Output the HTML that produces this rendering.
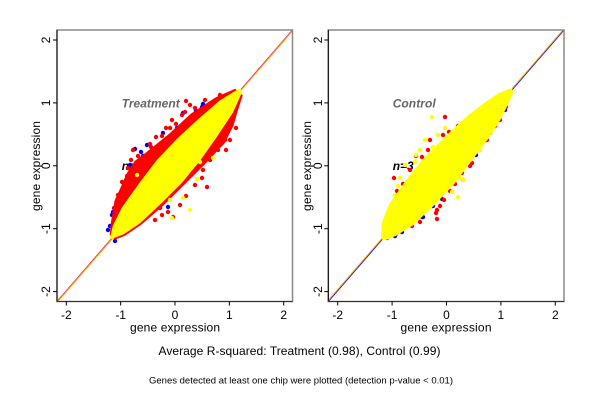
<!DOCTYPE html>
<html><head><meta charset="utf-8"><style>
html,body{margin:0;padding:0;background:#fff;}
svg{display:block;}
text{font-family:"Liberation Sans",Arial,sans-serif;}
</style></head><body>
<svg width="600" height="400" viewBox="0 0 600 400" xmlns="http://www.w3.org/2000/svg">
<defs>
<clipPath id="cl"><rect x="57" y="30" width="235.5" height="271.5"/></clipPath>
<clipPath id="cr"><rect x="328.3" y="30" width="235.7" height="271.5"/></clipPath>
</defs>
<rect width="600" height="400" fill="#fff"/>

<!-- LEFT PANEL -->
<g clip-path="url(#cl)">
<line x1="57" y1="301.5" x2="292.5" y2="30" stroke="#e8106a" stroke-width="1"/>
<line x1="57.8" y1="301.5" x2="293.3" y2="30" stroke="#ffa500" stroke-width="1"/>
<text x="121.7" y="170" font-size="12" font-weight="bold" font-style="italic" fill="#000">n=3</text>
<g fill="#0000ff">
<circle cx="163" cy="133" r="2.2"/><circle cx="177" cy="128" r="2.2"/><circle cx="202" cy="107" r="2.2"/><circle cx="183" cy="113" r="2.2"/><circle cx="124" cy="197" r="2.2"/><circle cx="113" cy="212" r="2.2"/><circle cx="168" cy="207" r="2.2"/><circle cx="126" cy="202" r="2.2"/><circle cx="141" cy="152" r="2.2"/><circle cx="143" cy="156" r="2.2"/><circle cx="135" cy="149" r="2.2"/><circle cx="112" cy="215" r="2.2"/><circle cx="108" cy="230" r="2.2"/><circle cx="203" cy="104" r="2.2"/><circle cx="147" cy="145" r="2.2"/><circle cx="196" cy="111" r="2.2"/><circle cx="130" cy="165" r="2.2"/><circle cx="118" cy="205" r="2.2"/><circle cx="115" cy="241" r="2.2"/><circle cx="210" cy="150" r="2.2"/><circle cx="110" cy="226" r="2.2"/>
</g>
<polygon fill="#ff0000" points="109.7,235 110.8,223.2 114.5,200.8 120.3,188 126.8,173.1 134.8,160.9 146.6,152 169.4,133.5 190.7,113.8 215.8,97.3 235.2,88.7 242.8,95.3 238,110 233.5,125.6 224.5,143.4 204.7,164.5 184.2,184.9 163.6,205.4 141.6,224.5 125.1,235.7 115,239.6"/>
<g fill="#ff0000">
<circle cx="185" cy="112" r="2.2"/><circle cx="172" cy="120" r="2.2"/><circle cx="182" cy="115" r="2.2"/><circle cx="211" cy="108" r="2.2"/><circle cx="213" cy="105" r="2.2"/><circle cx="156" cy="137" r="2.2"/><circle cx="162" cy="136" r="2.2"/><circle cx="143" cy="157" r="2.2"/><circle cx="133" cy="150" r="2.2"/><circle cx="127" cy="176" r="2.2"/><circle cx="207" cy="187" r="2.2"/><circle cx="202" cy="178" r="2.2"/><circle cx="138" cy="188" r="2.2"/><circle cx="148" cy="215" r="2.2"/><circle cx="155" cy="220" r="2.2"/><circle cx="162" cy="215" r="2.2"/><circle cx="173" cy="217" r="2.2"/><circle cx="197" cy="157" r="2.2"/><circle cx="200" cy="137" r="2.2"/><circle cx="190" cy="105" r="2.2"/><circle cx="205" cy="100" r="2.2"/><circle cx="220" cy="95" r="2.2"/><circle cx="225" cy="98" r="2.2"/><circle cx="166" cy="128" r="2.2"/><circle cx="176" cy="124" r="2.2"/><circle cx="150" cy="144" r="2.2"/><circle cx="145" cy="162" r="2.2"/><circle cx="136" cy="170" r="2.2"/><circle cx="140" cy="180" r="2.2"/><circle cx="132" cy="192" r="2.2"/><circle cx="125" cy="200" r="2.2"/><circle cx="121" cy="210" r="2.2"/><circle cx="160" cy="208" r="2.2"/><circle cx="168" cy="212" r="2.2"/><circle cx="180" cy="205" r="2.2"/><circle cx="186" cy="196" r="2.2"/><circle cx="195" cy="185" r="2.2"/><circle cx="203" cy="170" r="2.2"/><circle cx="210" cy="160" r="2.2"/><circle cx="218" cy="150" r="2.2"/><circle cx="225" cy="140" r="2.2"/><circle cx="228" cy="128" r="2.2"/><circle cx="233" cy="118" r="2.2"/><circle cx="215" cy="125" r="2.2"/><circle cx="158" cy="152" r="2.2"/><circle cx="165" cy="145" r="2.2"/><circle cx="142" cy="200" r="2.2"/><circle cx="152" cy="205" r="2.2"/><circle cx="132" cy="222" r="2.2"/><circle cx="125" cy="230" r="2.2"/>
<circle cx="118" cy="195" r="2.2"/><circle cx="122" cy="182" r="2.2"/><circle cx="128" cy="168" r="2.2"/><circle cx="138" cy="156" r="2.2"/><circle cx="151" cy="147" r="2.2"/><circle cx="170" cy="128" r="2.2"/><circle cx="195" cy="108" r="2.2"/><circle cx="200" cy="112" r="2.2"/><circle cx="230" cy="140" r="2.2"/><circle cx="226" cy="150" r="2.2"/><circle cx="236" cy="128" r="2.2"/><circle cx="114" cy="208" r="2.2"/><circle cx="131" cy="160" r="2.2"/><circle cx="186" cy="101" r="2.2"/>
</g>
<polygon fill="#ffff00" points="110.5,235.7 113.1,225.1 122,207.3 138.8,183.6 156.4,160.5 176.2,139.5 197.5,119.7 219.5,100.6 236.7,90 241,89 241.3,94 233.1,112.4 217,136.8 200.2,160.5 181.9,182.9 161.4,203.4 140.1,223.2 123.6,234.4 113.5,238.3 110,239"/>
<g fill="#ffff00">
<circle cx="190" cy="210" r="2.2"/><circle cx="213" cy="158" r="2.2"/><circle cx="172" cy="218" r="2.2"/><circle cx="183" cy="198" r="2.2"/><circle cx="197" cy="179" r="2.2"/><circle cx="137" cy="175" r="2.2"/><circle cx="173" cy="155" r="2.2"/><circle cx="182" cy="137" r="2.2"/><circle cx="170" cy="200" r="2.2"/><circle cx="200" cy="162" r="2.2"/><circle cx="148" cy="208" r="2.2"/>
</g>
</g>
<text x="121.7" y="107.5" font-size="12" font-weight="bold" font-style="italic" fill="#666" textLength="58">Treatment</text>
<!-- box & axes left -->
<rect x="57" y="30" width="235.5" height="271.5" fill="none" stroke="#888" stroke-width="1.5"/>
<line x1="57" y1="30" x2="57" y2="301.5" stroke="#000" stroke-width="1"/>
<line x1="57" y1="301.5" x2="292.5" y2="301.5" stroke="#333" stroke-width="1"/>
<g stroke="#000" stroke-width="1">
<line x1="53" y1="40" x2="57" y2="40"/><line x1="53" y1="102.9" x2="57" y2="102.9"/><line x1="53" y1="165.8" x2="57" y2="165.8"/><line x1="53" y1="228.7" x2="57" y2="228.7"/><line x1="53" y1="291.6" x2="57" y2="291.6"/>
<line x1="66.3" y1="301.5" x2="66.3" y2="305.5"/><line x1="120.65" y1="301.5" x2="120.65" y2="305.5"/><line x1="175" y1="301.5" x2="175" y2="305.5"/><line x1="229.35" y1="301.5" x2="229.35" y2="305.5"/><line x1="283.7" y1="301.5" x2="283.7" y2="305.5"/>
</g>
<g font-size="12" fill="#000" text-anchor="middle">
<text x="66.3" y="319">-2</text><text x="120.65" y="319">-1</text><text x="175" y="319">0</text><text x="229.35" y="319">1</text><text x="283.7" y="319">2</text>
<text transform="translate(46,40) rotate(-90)" dominant-baseline="central">2</text>
<text transform="translate(46,102.9) rotate(-90)" dominant-baseline="central">1</text>
<text transform="translate(46,165.8) rotate(-90)" dominant-baseline="central">0</text>
<text transform="translate(46,228.7) rotate(-90)" dominant-baseline="central">-1</text>
<text transform="translate(46,291.6) rotate(-90)" dominant-baseline="central">-2</text>
<text x="175" y="331.5" textLength="90">gene expression</text>
<text transform="translate(36,166) rotate(-90)" dominant-baseline="central" textLength="90">gene expression</text>
</g>

<!-- RIGHT PANEL -->
<g clip-path="url(#cr)">
<line x1="328.3" y1="301.5" x2="564" y2="30" stroke="#0000ff" stroke-width="1"/>
<line x1="327.3" y1="301.5" x2="563" y2="30" stroke="#ffa500" stroke-width="1"/>
<text x="392.7" y="170" font-size="12" font-weight="bold" font-style="italic" fill="#000">n=3</text>
<g fill="#0000ff">
<circle cx="423" cy="217" r="2.2"/><circle cx="463" cy="167" r="2.2"/><circle cx="442" cy="199" r="2.2"/><circle cx="422" cy="217" r="2.2"/><circle cx="402" cy="232" r="2.2"/><circle cx="476" cy="155" r="2.2"/><circle cx="486" cy="140" r="2.2"/><circle cx="505" cy="110" r="2.2"/><circle cx="395" cy="236" r="2.2"/><circle cx="433" cy="206" r="2.2"/>
</g>
<g fill="#ff0000">
<circle cx="445" cy="117" r="2.2"/><circle cx="465" cy="122" r="2.2"/><circle cx="443" cy="135" r="2.2"/><circle cx="449" cy="132" r="2.2"/><circle cx="428" cy="150" r="2.2"/><circle cx="416" cy="156" r="2.2"/><circle cx="422" cy="157" r="2.2"/><circle cx="403" cy="184" r="2.2"/><circle cx="397" cy="191" r="2.2"/><circle cx="408" cy="182" r="2.2"/><circle cx="437" cy="210" r="2.2"/><circle cx="429" cy="206" r="2.2"/><circle cx="436" cy="213" r="2.2"/><circle cx="463" cy="180" r="2.2"/><circle cx="490" cy="133" r="2.2"/><circle cx="487" cy="140" r="2.2"/><circle cx="472" cy="163" r="2.2"/><circle cx="462" cy="173" r="2.2"/><circle cx="455" cy="184" r="2.2"/><circle cx="495" cy="126" r="2.2"/><circle cx="500" cy="120" r="2.2"/><circle cx="506" cy="107" r="2.2"/><circle cx="410" cy="170" r="2.2"/><circle cx="394" cy="178" r="2.2"/><circle cx="399" cy="210" r="2.2"/><circle cx="412" cy="226" r="2.2"/><circle cx="387" cy="238" r="2.2"/><circle cx="470" cy="166" r="2.2"/><circle cx="480" cy="150" r="2.2"/><circle cx="444" cy="200" r="2.2"/><circle cx="430" cy="140" r="2.2"/><circle cx="458" cy="126" r="2.2"/><circle cx="440" cy="206" r="2.2"/><circle cx="450" cy="191" r="2.2"/><circle cx="478" cy="114" r="2.2"/><circle cx="474" cy="118" r="2.2"/><circle cx="420" cy="222" r="2.2"/><circle cx="396" cy="234" r="2.2"/><circle cx="402" cy="191" r="2.2"/><circle cx="402" cy="198" r="2.2"/><circle cx="437" cy="219" r="2.2"/>
</g>
<polygon fill="#ffff00" points="381.2,236 381.6,223.4 389,204.2 405.9,180.1 424.3,157.4 444.9,136.7 466.3,116.6 482.1,104.5 498.6,93.1 508.7,89 512,88.5 513.3,93 509.1,102.3 500.2,120.3 489.7,136.9 472.1,160.3 454.5,183.6 434.6,205 413.2,225.1 395.9,235.9 385.8,240 382,239.5"/>
<g fill="#ffff00">
<circle cx="432" cy="117" r="2.2"/><circle cx="415" cy="162" r="2.2"/><circle cx="433" cy="147" r="2.2"/><circle cx="452" cy="192" r="2.2"/><circle cx="463" cy="180" r="2.2"/><circle cx="415" cy="173" r="2.2"/><circle cx="410" cy="190" r="2.2"/><circle cx="438" cy="135" r="2.2"/><circle cx="425" cy="140" r="2.2"/><circle cx="445" cy="128" r="2.2"/><circle cx="405" cy="165" r="2.2"/><circle cx="400" cy="178" r="2.2"/><circle cx="420" cy="150" r="2.2"/><circle cx="470" cy="160" r="2.2"/><circle cx="460" cy="178" r="2.2"/><circle cx="440" cy="195" r="2.2"/><circle cx="398" cy="186" r="2.2"/><circle cx="395" cy="195" r="2.2"/><circle cx="416" cy="155" r="2.2"/><circle cx="480" cy="150" r="2.2"/><circle cx="458" cy="197" r="2.2"/>
</g>
</g>
<text x="392.7" y="107.5" font-size="12" font-weight="bold" font-style="italic" fill="#666" textLength="43">Control</text>
<!-- box & axes right -->
<rect x="328.3" y="30" width="235.7" height="271.5" fill="none" stroke="#888" stroke-width="1.5"/>
<line x1="328.3" y1="30" x2="328.3" y2="301.5" stroke="#000" stroke-width="1"/>
<line x1="328.3" y1="301.5" x2="564" y2="301.5" stroke="#333" stroke-width="1"/>
<g stroke="#000" stroke-width="1">
<line x1="324.3" y1="40" x2="328.3" y2="40"/><line x1="324.3" y1="102.9" x2="328.3" y2="102.9"/><line x1="324.3" y1="165.8" x2="328.3" y2="165.8"/><line x1="324.3" y1="228.7" x2="328.3" y2="228.7"/><line x1="324.3" y1="291.6" x2="328.3" y2="291.6"/>
<line x1="337.7" y1="301.5" x2="337.7" y2="305.5"/><line x1="392.1" y1="301.5" x2="392.1" y2="305.5"/><line x1="446.5" y1="301.5" x2="446.5" y2="305.5"/><line x1="500.9" y1="301.5" x2="500.9" y2="305.5"/><line x1="555.3" y1="301.5" x2="555.3" y2="305.5"/>
</g>
<g font-size="12" fill="#000" text-anchor="middle">
<text x="337.7" y="319">-2</text><text x="392.1" y="319">-1</text><text x="446.5" y="319">0</text><text x="500.9" y="319">1</text><text x="555.3" y="319">2</text>
<text transform="translate(318,40) rotate(-90)" dominant-baseline="central">2</text>
<text transform="translate(318,102.9) rotate(-90)" dominant-baseline="central">1</text>
<text transform="translate(318,165.8) rotate(-90)" dominant-baseline="central">0</text>
<text transform="translate(318,228.7) rotate(-90)" dominant-baseline="central">-1</text>
<text transform="translate(318,291.6) rotate(-90)" dominant-baseline="central">-2</text>
<text x="446" y="331.5" textLength="91">gene expression</text>
<text transform="translate(307,166) rotate(-90)" dominant-baseline="central" textLength="90">gene expression</text>
</g>

<!-- titles -->
<text x="299.5" y="355" font-size="12" fill="#000" text-anchor="middle" textLength="282">Average R-squared: Treatment (0.98), Control (0.99)</text>
<text x="301" y="383.5" font-size="9.5" fill="#000" text-anchor="middle" textLength="304">Genes detected at least one chip were plotted (detection p-value &lt; 0.01)</text>
</svg>
</body></html>
